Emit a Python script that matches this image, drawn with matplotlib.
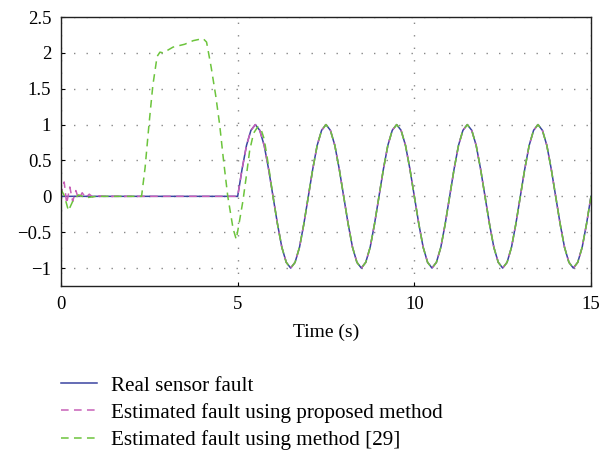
import numpy as np
import matplotlib
matplotlib.use("Agg")
import matplotlib.pyplot as plt
from matplotlib.lines import Line2D

plt.rcParams['font.family'] = ['Liberation Serif', 'DejaVu Serif']

# ---- data ----
# real sensor fault: zero until 5 s, then oscillation sampled every 0.125 s
real_t_pre = [0.0, 5.0]
real_y_pre = [0.0, 0.0]
wave_t = np.linspace(5.0, 15.0, 81)
wave_y = [0, 0.38, 0.71, 0.92, 1, 0.92, 0.71, 0.38, 0, -0.38, -0.71, -0.92, -1, -0.92, -0.71, -0.38,
          0, 0.38, 0.71, 0.92, 1, 0.92, 0.71, 0.38, 0, -0.38, -0.71, -0.92, -1, -0.92, -0.71, -0.38,
          0, 0.38, 0.71, 0.92, 1, 0.92, 0.71, 0.38, 0, -0.38, -0.71, -0.92, -1, -0.92, -0.71, -0.38,
          0, 0.38, 0.71, 0.92, 1, 0.92, 0.71, 0.38, 0, -0.38, -0.71, -0.92, -1, -0.92, -0.71, -0.38,
          0, 0.38, 0.71, 0.92, 1, 0.92, 0.71, 0.38, 0, -0.38, -0.71, -0.92, -1, -0.92, -0.71, -0.38,
          0]

# proposed method: early transient then tracks the real fault
prop_t_pre = [0.0, 0.04, 0.09, 0.16, 0.25, 0.33, 0.42, 0.5, 0.6, 0.7, 0.8, 0.9, 1.0, 1.2, 5.0]
prop_y_pre = [0.0, 0.12, 0.2, -0.1, 0.13, -0.07, 0.08, -0.04, 0.05, -0.02, 0.03, -0.01, 0.01, 0.0, 0.0]

# method [29]
m29_t_pre = [0.0, 0.1, 0.21, 0.35, 0.5, 0.7, 1.0, 1.5, 2.0, 2.28, 2.38, 2.49, 2.6, 2.72, 2.8, 2.89,
             3.17, 3.5, 3.74, 4.02, 4.12, 4.25, 4.38, 4.49, 4.6, 4.72, 4.87, 4.96, 5.05, 5.15, 5.25,
             5.34, 5.45, 5.57, 5.67, 5.75, 5.875]
m29_y_pre = [0.1, 0.0, -0.2, -0.05, 0.02, -0.02, 0.0, 0.0, 0.0, 0.0, 0.4, 1.0, 1.55, 1.95, 2.01, 2.0,
             2.08, 2.12, 2.17, 2.2, 2.15, 1.8, 1.4, 1.0, 0.5, 0.0, -0.45, -0.6, -0.35, -0.06, 0.3,
             0.64, 0.88, 0.97, 0.92, 0.8, 0.42]

labels = ["Real sensor fault", "Estimated fault using proposed method", "Estimated fault using method [29]"]
colors = ["#3a44a0", "#c860b8", "#6cc43c"]

real_t = np.concatenate([real_t_pre, wave_t[1:]])
real_y = np.concatenate([real_y_pre, wave_y[1:]])
prop_t = np.concatenate([prop_t_pre, wave_t[1:]])
prop_y = np.concatenate([prop_y_pre, wave_y[1:]])
m29_t = np.concatenate([m29_t_pre, wave_t[8:]])
m29_y = np.concatenate([m29_y_pre, wave_y[8:]])

fig = plt.figure(figsize=(6.11, 4.51), dpi=100)
ax = fig.add_axes([61/611, 1 - 286/451, (591-61)/611, (286-17)/451])

dash = (0, (5, 3.5))
ax.plot(real_t, real_y, color=colors[0], lw=1.1, label=labels[0])
ax.plot(prop_t, prop_y, color=colors[1], lw=1.1, ls=dash, label=labels[1])
ax.plot(m29_t, m29_y, color=colors[2], lw=1.1, ls=dash, label=labels[2])

ax.set_xlim(0, 15)
ax.set_ylim(-1.25, 2.5)
ax.set_xticks([0, 5, 10, 15])
ax.set_yticks([-1, -0.5, 0, 0.5, 1, 1.5, 2, 2.5])
ax.set_yticklabels(["\u22121", "\u22120.5", "0", "0.5", "1", "1.5", "2", "2.5"])
ax.tick_params(direction='in', labelsize=13.5, length=3, top=False, right=False, pad=7)
ax.grid(True, color='#888888', ls=(0, (1, 8)), lw=1.0)
for s in ax.spines.values():
    s.set_linewidth(1.0)
    s.set_color('#222222')
ax.set_xlabel("Time (s)", fontsize=14, labelpad=8)

handles = [Line2D([0], [0], color=colors[0], lw=1.1),
           Line2D([0], [0], color=colors[1], lw=1.1, ls=dash),
           Line2D([0], [0], color=colors[2], lw=1.1, ls=dash)]
fig.legend(handles, labels, loc='upper left', bbox_to_anchor=(61/611, 1 - 376/451),
           frameon=False, fontsize=15.2, handlelength=1.7, handletextpad=0.65,
           labelspacing=0.34, borderpad=0, borderaxespad=0)

fig.savefig("out.png", dpi=100)
